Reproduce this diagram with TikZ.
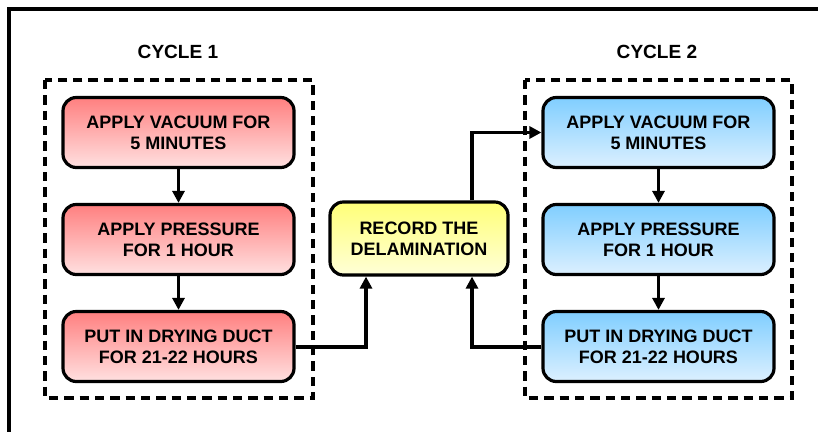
\documentclass[tikz,border=0pt]{standalone}
\usepackage{fontspec}
\setmainfont{Liberation Sans}
\usetikzlibrary{arrows.meta}
\begin{document}
\begin{tikzpicture}[x=0.75pt,y=-0.75pt,
  stepbox/.style={draw=black,line width=2.4pt,rounded corners=10pt,minimum width=231*0.75pt,minimum height=70*0.75pt,align=center,font=\bfseries\fontsize{13.5}{15.8}\selectfont,inner sep=0pt},
  redbox/.style={stepbox,top color=red!50!white,bottom color=red!12!white},
  bluebox/.style={stepbox,top color={rgb,255:red,128;green,206;blue,255},bottom color={rgb,255:red,220;green,240;blue,255}},
  yelbox/.style={stepbox,minimum width=178*0.75pt,minimum height=73*0.75pt,top color={rgb,255:red,255;green,255;blue,120},bottom color={rgb,255:red,255;green,255;blue,215}},
  group/.style={draw=black,line width=3pt,dash pattern=on 7pt off 4.5pt},
  conn/.style={line width=2.5pt,-{Triangle[length=9pt,width=9pt]}},
  title/.style={font=\bfseries\fontsize{14.3}{16}\selectfont}
]
\useasboundingbox (0,0) rectangle (818,432);
\draw[line width=2.7pt] (9,432) |- (818,9);
\node[title] (t1) at (178,52) {CYCLE 1};
\node[title] (t2) at (657,52) {CYCLE 2};
\draw[group] (45,80) rectangle (313,398);
\draw[group] (525,80) rectangle (792,398);
\node[redbox] (r1) at (178.5,132.5) {APPLY VACUUM FOR\\5 MINUTES};
\node[redbox] (r2) at (178.5,239.5) {APPLY PRESSURE\\FOR 1 HOUR};
\node[redbox] (r3) at (178.5,346.5) {PUT IN DRYING DUCT\\FOR 21-22 HOURS};
\node[bluebox] (b1) at (658.5,132.5) {APPLY VACUUM FOR\\5 MINUTES};
\node[bluebox] (b2) at (658.5,239.5) {APPLY PRESSURE\\FOR 1 HOUR};
\node[bluebox] (b3) at (658.5,346.5) {PUT IN DRYING DUCT\\FOR 21-22 HOURS};
\node[yelbox] (y) at (419,238.5) {RECORD THE\\DELAMINATION};
\draw[conn] (r1) -- (r2);
\draw[conn] (r2) -- (r3);
\draw[conn] (b1) -- (b2);
\draw[conn] (b2) -- (b3);
\coordinate (c1) at (366,347);
\coordinate (c2) at (472,347);
\draw[conn] (r3.east |- c1) -| (y.south -| c1);
\draw[conn] (b3.west |- c2) -| (y.south -| c2);
\draw[conn] (y.north -| c2) |- (b1.west);
\end{tikzpicture}
\end{document}
